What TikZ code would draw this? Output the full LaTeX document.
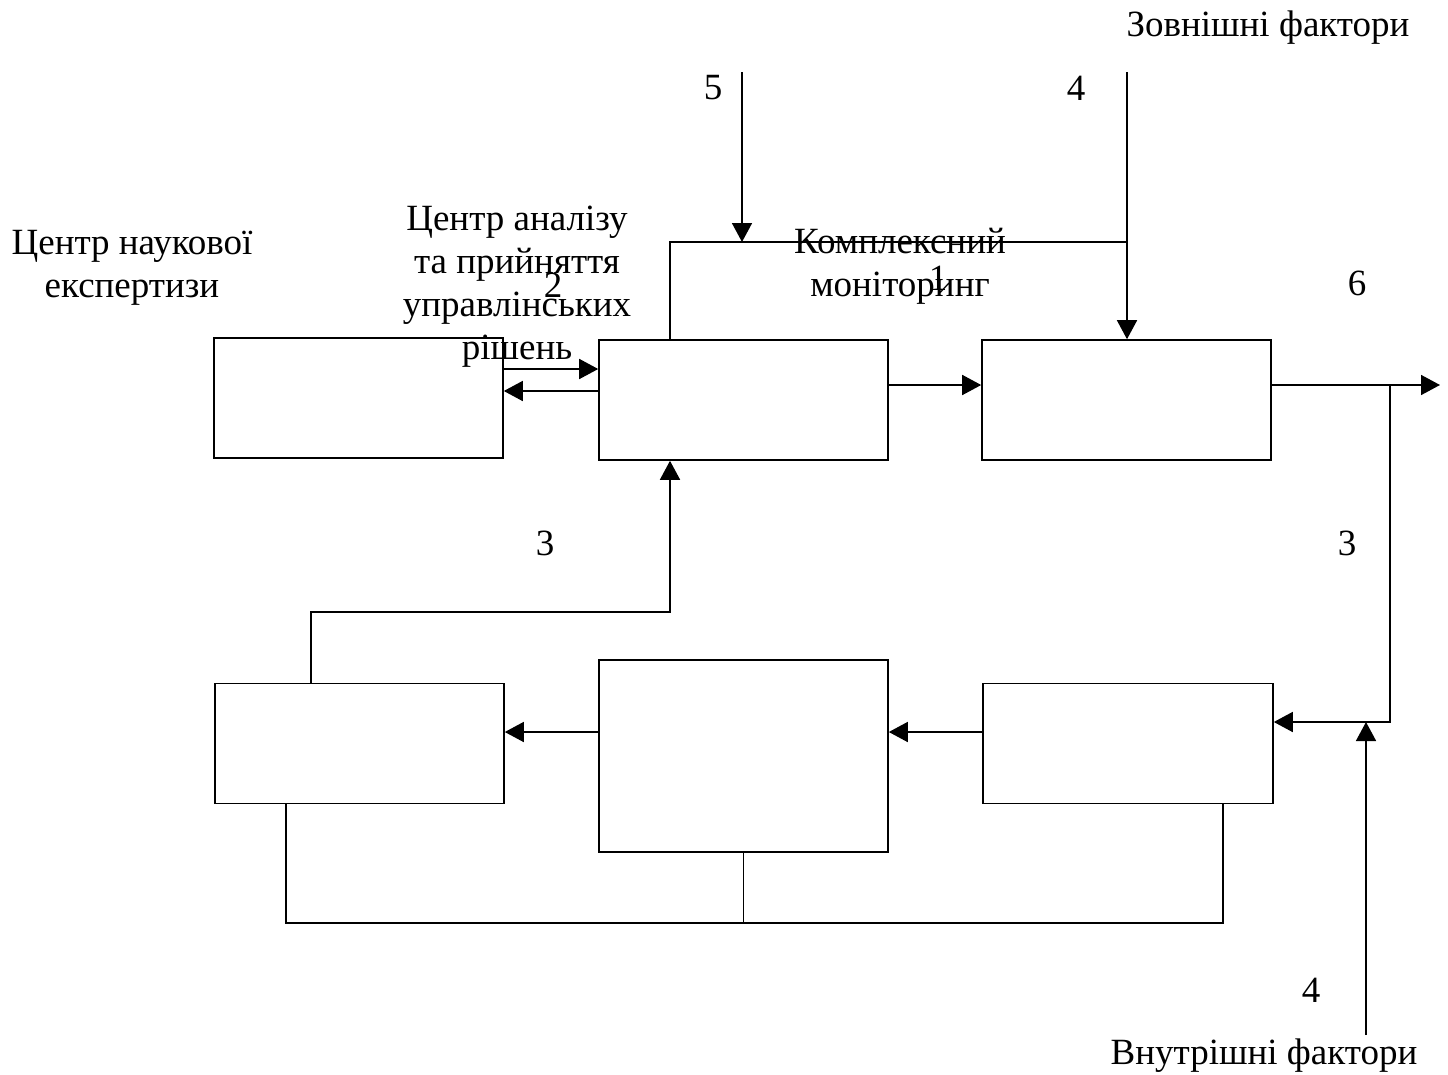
\documentclass[tikz,border=0pt]{standalone}
\usepackage{fontspec}
\setmainfont{Liberation Serif}
\usetikzlibrary{arrows.meta}
\begin{document}
\begin{tikzpicture}[x=1pt,y=-1pt,
  box/.style={draw, line width=1.6pt, inner sep=0pt, minimum width=289pt, minimum height=120pt},
  lbl/.style={inner sep=0pt, align=center, font=\fontsize{37}{43}\selectfont},
  ln/.style={line width=1.6pt},
  arr/.style={line width=1.6pt, -{Triangle[length=19pt,width=20pt]}}]
\useasboundingbox (0,0) rectangle (1448,1074);
% boxes
\node[box] (ncs) at (358.5,398) {};
\node[box] (cen) at (743.5,400) {};
\node[box] (mon) at (1126.5,400) {};
\node[box] (ll) at (359.5,743.5) {};
\node[box, minimum height=192pt] (lm) at (743.5,756) {};
\node[box, minimum width=290pt] (lr) at (1128,743.5) {};
% coordinates
\coordinate (in5) at (742,72);
\coordinate (in4) at (1127,72);
\coordinate (j4) at (1127,242);
\coordinate (j6) at (1390,385);
\coordinate (out) at (1440,385);
\coordinate (j7) at (1366,722);
\coordinate (vin) at (1366,1035);
\coordinate (fbk) at (490,612);
\coordinate (jb) at (742,923);
% labels
\node[lbl] (zf) at (1268,28) {Зовнішні фактори};
\node[lbl] (n5) at (713,88) {5};
\node[lbl] (n4a) at (1076,88) {4};
\node[lbl] (tncs) at (132,268) {Центр наукової\\експертизи};
\node[lbl] (tcen) at (517,287) {Центр аналізу\\та прийняття\\управлінських\\рішень};
\node[lbl] (n2) at (553,285) {2};
\node[lbl] (tmon) at (900,266) {Комплексний\\моніторинг};
\node[lbl] (n1) at (938,278) {1};
\node[lbl] (n6) at (1357,283) {6};
\node[lbl] (n3a) at (545,543) {3};
\node[lbl] (n3b) at (1347,543) {3};
\node[lbl] (n4b) at (1311,990) {4};
\node[lbl] (vf) at (1264,1056) {Внутрішні фактори};
% connectors
\draw[ln] ([xshift=-73.5pt]cen.north) |- (j4);
\draw[arr] (in5) -- (in5 |- j4);
\draw[arr] (in4) -- (in4 |- mon.north);
\draw[arr] ([yshift=29pt]ncs.east) coordinate (a1) -- (a1 -| cen.west);
\draw[arr] ([yshift=9pt]cen.west) coordinate (a2) -- (a2 -| ncs.east);
\draw[arr] ([yshift=15pt]cen.east) coordinate (a3) -- (a3 -| mon.west);
\draw[arr] ([yshift=15pt]mon.east) -- (out);
\draw[arr] (j6) |- ([yshift=21.5pt]lr.east);
\draw[arr] (vin) -- (j7);
\draw[arr] ([yshift=11.5pt]lr.west) coordinate (a4) -- (a4 -| lm.east);
\draw[arr] ([yshift=24pt]lm.west) coordinate (a5) -- (a5 -| ll.east);
\draw[arr] ([xshift=-48.5pt]ll.north) |- (fbk) -| ([xshift=-73.5pt]cen.south);
\draw[ln] ([xshift=-73.5pt]ll.south) |- (jb) -| ([xshift=95pt]lr.south);
\draw[ln] (lm.south) -- (lm.south |- jb);
\end{tikzpicture}
\end{document}
